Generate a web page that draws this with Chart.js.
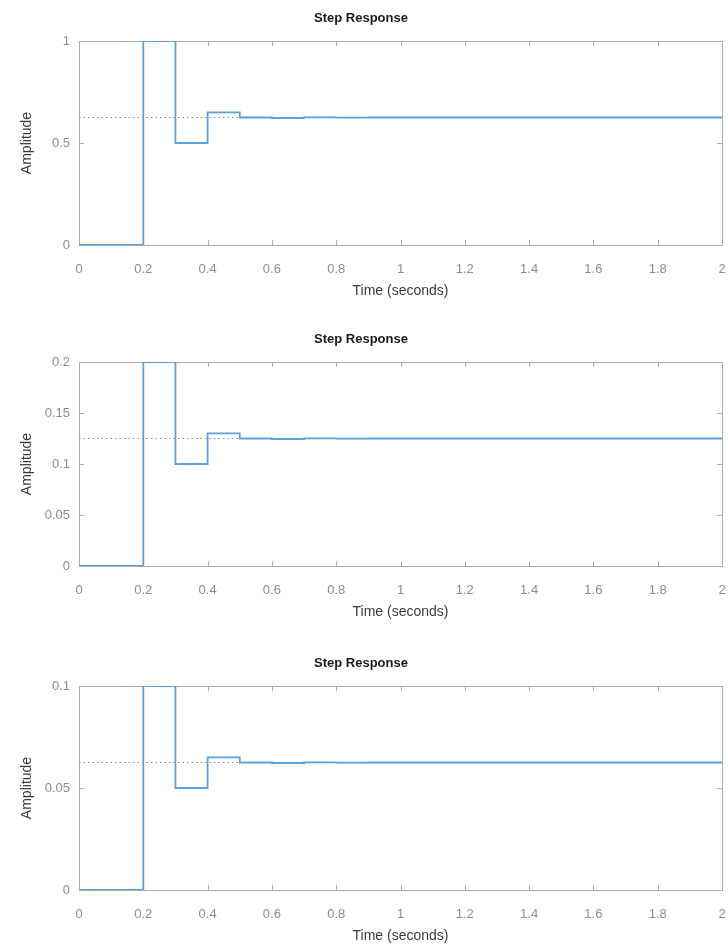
<!DOCTYPE html>
<html>
<head>
<meta charset="utf-8">
<script src="https://cdn.jsdelivr.net/npm/chart.js@4/dist/chart.umd.min.js"></script>
<style>
  body { margin: 0; background: #fff; width: 728px; height: 945px; position: relative; overflow: hidden; }
  canvas { position: absolute; left: 0; }
</style>
</head>
<body>
<canvas id="plot1" width="728" height="300" style="top:0px"></canvas>
<canvas id="plot2" width="728" height="300" style="top:321px"></canvas>
<canvas id="plot3" width="728" height="300" style="top:645px"></canvas>
<script>
// sample times (seconds)
const times = [0, 0.1, 0.2, 0.3, 0.4, 0.5, 0.6, 0.7, 0.8, 0.9, 1.0,
               1.1, 1.2, 1.3, 1.4, 1.5, 1.6, 1.7, 1.8, 1.9, 2.0];

// step response values for each subplot
const resp1 = [0, 0, 1, 0.5, 0.65, 0.625, 0.6225, 0.626, 0.6246, 0.625, 0.625,
               0.625, 0.625, 0.625, 0.625, 0.625, 0.625, 0.625, 0.625, 0.625, 0.625];
const resp2 = [0, 0, 0.2, 0.1, 0.13, 0.125, 0.1245, 0.1252, 0.1249, 0.125, 0.125,
               0.125, 0.125, 0.125, 0.125, 0.125, 0.125, 0.125, 0.125, 0.125, 0.125];
const resp3 = [0, 0, 0.1, 0.05, 0.065, 0.0625, 0.06225, 0.0626, 0.06246, 0.0625, 0.0625,
               0.0625, 0.0625, 0.0625, 0.0625, 0.0625, 0.0625, 0.0625, 0.0625, 0.0625, 0.0625];

// steady state levels (dotted lines)
const steady = [0.625, 0.125, 0.0625];

// axis ranges / ticks
const yMax = [1, 0.2, 0.1];
const yStep = [0.5, 0.05, 0.05];
const xTickStep = 0.2;

const FONT = "'Liberation Sans', Arial, sans-serif";

// plain tick text like MATLAB: 1 not 1.0, 0.2 not 0.20
const fmt = v => String(+(+v).toFixed(4));

// MATLAB style box with inward ticks, drawn under the curves
const boxTicks = {
    id: 'boxTicks',
    beforeDatasetsDraw(chart) {
        const ctx = chart.ctx;
        const a = chart.chartArea;
        const xs = chart.scales.x;
        const ys = chart.scales.y;
        const len = 5;
        ctx.save();
        ctx.strokeStyle = '#ababab';
        ctx.lineWidth = 1;
        ctx.beginPath();
        xs.ticks.forEach(t => {
            const px = Math.round(xs.getPixelForValue(t.value)) + 0.5;
            ctx.moveTo(px, a.bottom);
            ctx.lineTo(px, a.bottom - len);
            ctx.moveTo(px, a.top);
            ctx.lineTo(px, a.top + len);
        });
        ys.ticks.forEach(t => {
            const py = Math.round(ys.getPixelForValue(t.value)) + 0.5;
            ctx.moveTo(a.left, py);
            ctx.lineTo(a.left + len, py);
            ctx.moveTo(a.right, py);
            ctx.lineTo(a.right - len, py);
        });
        ctx.stroke();
        ctx.strokeRect(Math.round(a.left) + 0.5, Math.round(a.top) + 0.5,
                       Math.round(a.right - a.left), Math.round(a.bottom - a.top));
        ctx.restore();
    }
};

function makePlot(id, values, level, ymax, ystep) {
    const ctx = document.getElementById(id).getContext('2d');
    new Chart(ctx, {
        type: 'line',
        data: {
            datasets: [{
                data: times.map((t, i) => ({ x: t, y: values[i] })),
                borderColor: '#5aa2da',
                borderWidth: 1.8,
                pointRadius: 0,
                stepped: 'before',
                fill: false
            }, {
                data: [{ x: times[0], y: level }, { x: times[times.length - 1], y: level }],
                borderColor: '#8a8a8a',
                borderWidth: 1,
                borderDash: [1.5, 3],
                pointRadius: 0,
                fill: false
            }]
        },
        options: {
            responsive: false,
            animation: false,
            layout: { padding: { left: 0, right: 6, top: 0, bottom: 0 } },
            plugins: {
                legend: { display: false },
                tooltip: { enabled: false },
                title: {
                    display: true,
                    text: 'Step Response',
                    color: '#1a1a1a',
                    font: { family: FONT, size: 13, weight: 'bold' },
                    padding: { top: 11, bottom: 14.4 }
                }
            },
            scales: {
                x: {
                    type: 'linear',
                    min: 0,
                    max: 2,
                    grid: { display: false, drawTicks: false },
                    border: { display: false },
                    ticks: {
                        stepSize: xTickStep,
                        color: '#8c8c8c',
                        padding: 17,
                        maxRotation: 0,
                        font: { family: FONT, size: 13 },
                        callback: fmt
                    },
                    title: {
                        display: true,
                        text: 'Time (seconds)',
                        color: '#3a3a3a',
                        font: { family: FONT, size: 14 },
                        padding: { top: 0, bottom: 0 }
                    },
                    afterFit: s => {
                        s.height = 55;
                        s.paddingLeft = 0;
                        s.paddingRight = 0;
                    }
                },
                y: {
                    min: 0,
                    max: ymax,
                    grid: { display: false, drawTicks: false },
                    border: { display: false },
                    ticks: {
                        stepSize: ystep,
                        color: '#8c8c8c',
                        padding: 9,
                        font: { family: FONT, size: 13 },
                        callback: fmt
                    },
                    title: {
                        display: true,
                        text: 'Amplitude',
                        color: '#3a3a3a',
                        font: { family: FONT, size: 14 },
                        padding: { top: 19, bottom: 0 }
                    },
                    afterFit: s => { s.width = 79; }
                }
            }
        },
        plugins: [boxTicks]
    });
}

makePlot('plot1', resp1, steady[0], yMax[0], yStep[0]);
makePlot('plot2', resp2, steady[1], yMax[1], yStep[1]);
makePlot('plot3', resp3, steady[2], yMax[2], yStep[2]);
</script>
</body>
</html>
